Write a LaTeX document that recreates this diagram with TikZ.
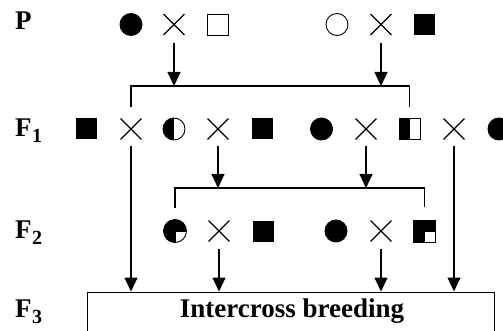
\documentclass[tikz,border=0pt]{standalone}
\usepackage{fontspec}
\setmainfont{Liberation Serif}
\usetikzlibrary{shapes.misc,arrows.meta}
\begin{document}
\begin{tikzpicture}[x=1pt,y=-1pt,
 lbl/.style={anchor=base west, inner sep=0, font=\fontsize{27}{30}\selectfont\bfseries},
 xx/.style={cross out, draw, line width=1.3pt, minimum size=19.5pt, inner sep=0},
 fc/.style={circle, fill, minimum size=23pt, inner sep=0},
 oc/.style={circle, draw, line width=0.9pt, minimum size=22pt, inner sep=0},
 fs/.style={rectangle, fill, minimum size=21pt, inner sep=0},
 os/.style={rectangle, draw, line width=0.9pt, minimum size=21pt, inner sep=0},
 hc/.style={circle, draw, line width=0.9pt, minimum size=22pt, inner sep=0,
   path picture={\fill (path picture bounding box.south west) rectangle (path picture bounding box.north);}},
 hs/.style={rectangle, draw, line width=1pt, minimum size=21pt, inner sep=0,
   path picture={\fill (path picture bounding box.south west) rectangle (path picture bounding box.north);}},
 qc/.style={circle, draw, line width=0.9pt, minimum size=23pt, inner sep=0,
   path picture={\fill (path picture bounding box.south west) rectangle (path picture bounding box.north east);
     \fill[white] (path picture bounding box.center) rectangle (path picture bounding box.south east);
     \draw[line width=0.9pt] (path picture bounding box.south) -- (path picture bounding box.center) -- (path picture bounding box.east);}},
 qs/.style={rectangle, draw, line width=1pt, minimum size=22pt, inner sep=0,
   path picture={\fill (path picture bounding box.south west) rectangle (path picture bounding box.north east);
     \fill[white] (path picture bounding box.center) rectangle (path picture bounding box.south east);
     \draw[line width=0.9pt] (path picture bounding box.south) -- (path picture bounding box.center) -- (path picture bounding box.east);}},
 ln/.style={line width=1.2pt},
 arr/.style={line width=1.2pt, -{Triangle[length=14pt,width=13pt]}},
 txt/.style={anchor=base, inner sep=0, font=\fontsize{27}{30}\selectfont\bfseries}
]
\useasboundingbox (0,0) rectangle (503,331);
\clip (0,0) rectangle (503,331);
\newcommand{\subn}[1]{\kern0.5pt\raisebox{-6pt}{\fontsize{20}{20}\selectfont #1}}
% labels
\node[lbl] (lP) at (15,30) {P};
\node[lbl] (lF1) at (15,137) {F\subn{1}};
\node[lbl] (lF2) at (15,238) {F\subn{2}};
\node[lbl] (lF3) at (15,317) {F\subn{3}};
% P row
\node[fc] (pc1) at (131,24.5) {};
\node[xx] (px1) at (174,24.5) {};
\node[os] (ps1) at (218,24.5) {};
\node[oc] (pc2) at (337,24.5) {};
\node[xx] (px2) at (381,24.5) {};
\node[fs] (ps2) at (424,24.5) {};
% F1 row
\node[fs] (f1s1) at (86.5,129) {};
\node[xx] (f1x1) at (131,129) {};
\node[hc] (f1hc) at (174,129) {};
\node[xx] (f1x2) at (218,129) {};
\node[fs] (f1s2) at (262,129) {};
\node[fc] (f1c1) at (321.5,129) {};
\node[xx] (f1x3) at (366,129) {};
\node[hs] (f1hs) at (409.5,129) {};
\node[xx] (f1x4) at (454,129) {};
\node[fc] (f1c2) at (499,129) {};
% F2 row
\node[qc] (f2qc) at (175,231) {};
\node[xx] (f2x1) at (219,231) {};
\node[fs] (f2s) at (263,231) {};
\node[fc] (f2c) at (336,231) {};
\node[xx] (f2x2) at (381,231) {};
\node[qs] (f2qs) at (424.5,231) {};
% box
\node[draw, line width=1.2pt, anchor=north west, minimum width=407pt, minimum height=60pt, inner sep=0] (box) at (87,291.5) {};
\node[txt] (boxtxt) at (292,317) {Intercross breeding};
% bracket 1
\coordinate (b1a) at (174,86);
\coordinate (b1b) at (381,86);
\coordinate (b1l) at (131,86);
\coordinate (b1r) at (409.5,86);
\draw[arr] ([yshift=-8pt]px1.south) -- (b1a);
\draw[arr] ([yshift=-8pt]px2.south) -- (b1b);
\draw[ln] ([yshift=12pt]f1x1.north) -- (b1l) -- (b1r) -- ([yshift=11pt]f1hs.north);
% bracket 2
\coordinate (b2a) at (218,188);
\coordinate (b2b) at (366,188);
\coordinate (b2l) at (175,188);
\coordinate (b2r) at (424.5,188);
\draw[arr] ([yshift=-7pt]f1x2.south) -- (b2a);
\draw[arr] ([yshift=-7pt]f1x3.south) -- (b2b);
\draw[ln] ([yshift=11.5pt]f2qc.north) -- (b2l) -- (b2r) -- ([yshift=12pt]f2qs.north);
% to box
\draw[arr] ([yshift=-7pt]f1x1.south) -- (f1x1 |- box.north);
\draw[arr] ([yshift=-7pt]f1x4.south) -- (f1x4 |- box.north);
\draw[arr] ([yshift=-8pt]f2x1.south) -- (f2x1 |- box.north);
\draw[arr] ([yshift=-8pt]f2x2.south) -- (f2x2 |- box.north);
\end{tikzpicture}
\end{document}
